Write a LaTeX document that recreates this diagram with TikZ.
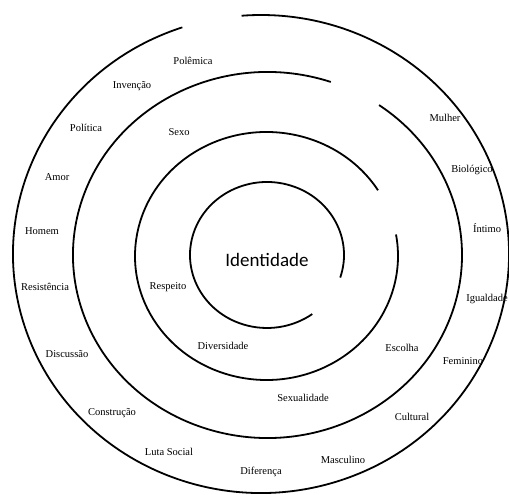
\documentclass[tikz,border=0pt]{standalone}
\usepackage{fontspec}
\setmainfont{Liberation Serif}
\newfontfamily\titlefont{Carlito}
\usetikzlibrary{calc}

\begin{document}
\begin{tikzpicture}[x=1pt,y=1pt,
    ring/.style={line width=1.8pt},
    word/.style={inner sep=0pt, font=\fontsize{10.5}{12}\selectfont}]
    \useasboundingbox (0,0) rectangle (509,495);

    % --- centres of the arcs ---
    \coordinate (C1) at (267,240);
    \coordinate (C2) at (266.5,239);
    \coordinate (C3) at (267.5,240);
    \coordinate (C4) at (261,241);

    % --- arcs, inside to outside ---
    \draw[ring] ($(C1)+(-18:77 and 73)$) arc[start angle=-18, end angle=306, x radius=77, y radius=73];
    \draw[ring] ($(C2)+(32:131.5 and 124)$) arc[start angle=32, end angle=370, x radius=131.5, y radius=124];
    \draw[ring] ($(C3)+(71:194.5 and 183)$) arc[start angle=71, end angle=415, x radius=194.5, y radius=183];
    \draw[ring] ($(C4)+(108.5:248 and 239)$) arc[start angle=108.5, end angle=454.5, x radius=248, y radius=239];

    % --- centre ---
    \node[inner sep=0pt, font=\titlefont\fontsize{19}{21}\selectfont] (ident) at (267,235) {Identidade};

    % --- second ring ---
    \node[word] (respeito) at (168,208) {Respeito};
    \node[word] (diversidade) at (223,149) {Diversidade};

    % --- third ring ---
    \node[word] (sexo) at (179,363) {Sexo};
    \node[word] (escolha) at (402,147) {Escolha};
    \node[word] (sexualidade) at (303,97) {Sexualidade};

    % --- outer ring ---
    \node[word] (polemica) at (193,434) {Polêmica};
    \node[word] (invencao) at (132,409) {Invenção};
    \node[word] (politica) at (86,367) {Política};
    \node[word] (amor) at (57,318) {Amor};
    \node[word] (homem) at (42,264) {Homem};
    \node[word] (resistencia) at (45,208) {Resistência};
    \node[word] (discussao) at (67,141) {Discussão};
    \node[word] (construcao) at (112,82) {Construção};
    \node[word] (luta) at (169,43) {Luta Social};
    \node[word] (diferenca) at (261,23) {Diferença};
    \node[word] (masculino) at (343,35) {Masculino};
    \node[word] (cultural) at (412,78) {Cultural};
    \node[word] (feminino) at (463,134) {Feminino};
    \node[word] (igualdade) at (487,196) {Igualdade};
    \node[word] (intimo) at (487,267) {Íntimo};
    \node[word] (biologico) at (472,325) {Biológico};
    \node[word] (mulher) at (445,377) {Mulher};
\end{tikzpicture}
\end{document}
